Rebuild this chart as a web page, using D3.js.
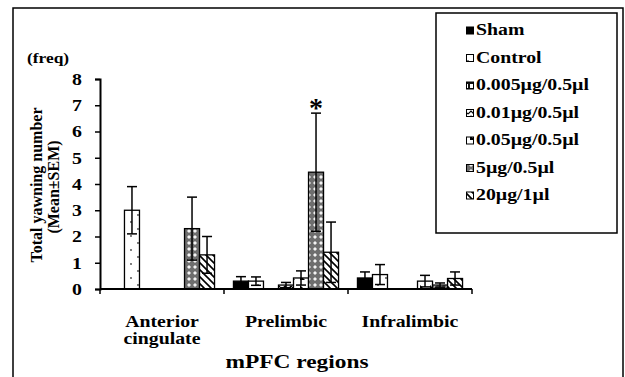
<!DOCTYPE html>
<html>
<head>
<meta charset="utf-8">
<script src="https://cdn.jsdelivr.net/npm/d3@7"></script>
<style>
    body { margin: 0; background: #fff; }
    svg text { font-family: "Liberation Serif", "Times New Roman", serif; font-weight: bold; fill: #000; }
</style>
</head>
<body>
<div id="chart"></div>
<script>
// data
const regions = ["Anterior cingulate", "Prelimbic", "Infralimbic"];
const regionLines = [["Anterior", "cingulate"], ["Prelimbic"], ["Infralimbic"]];
const seriesNames = ["Sham", "Control", "0.005µg/0.5µl", "0.01µg/0.5µl", "0.05µg/0.5µl", "5µg/0.5µl", "20µg/1µl"];

const shamMean = [0, 0.3, 0.42];
const controlMean = [3.0, 0.3, 0.55];
const dose0005Mean = [0, 0, 0];
const dose001Mean = [0, 0.15, 0];
const dose005Mean = [0, 0.42, 0.3];
const dose5Mean = [2.3, 4.45, 0.15];
const dose20Mean = [1.3, 1.4, 0.4];

const shamSem = [0, 0.17, 0.23];
const controlSem = [0.9, 0.16, 0.38];
const dose0005Sem = [0, 0, 0];
const dose001Sem = [0, 0.1, 0];
const dose005Sem = [0, 0.27, 0.22];
const dose5Sem = [1.2, 2.25, 0.08];
const dose20Sem = [0.7, 1.15, 0.25];

const yTicks = [0, 1, 2, 3, 4, 5, 6, 7, 8];
const significant = [{ region: "Prelimbic", series: "5µg/0.5µl" }];

const means = [shamMean, controlMean, dose0005Mean, dose001Mean, dose005Mean, dose5Mean, dose20Mean];
const sems = [shamSem, controlSem, dose0005Sem, dose001Sem, dose005Sem, dose5Sem, dose20Sem];
const patterns = ["solid", "dots", "brick", "zigzag", "corner", "checker", "stripes"];

const width = 625;
const height = 377;
const sx = 1.2; // glyphs in the figure are stretched horizontally

const svg = d3.select("#chart").append("svg")
    .attr("width", width)
    .attr("height", height);

// fill patterns
const defs = svg.append("defs");

const pDots = defs.append("pattern").attr("id", "dots")
    .attr("patternUnits", "userSpaceOnUse").attr("width", 15).attr("height", 28);
pDots.append("rect").attr("width", 15).attr("height", 28).attr("fill", "#fff");
pDots.append("circle").attr("cx", 3).attr("cy", 5).attr("r", 0.9).attr("fill", "#444");
pDots.append("circle").attr("cx", 11).attr("cy", 12).attr("r", 0.9).attr("fill", "#444");
pDots.append("circle").attr("cx", 3).attr("cy", 19).attr("r", 0.9).attr("fill", "#444");
pDots.append("circle").attr("cx", 11).attr("cy", 26).attr("r", 0.9).attr("fill", "#444");

const pBrick = defs.append("pattern").attr("id", "brick")
    .attr("patternUnits", "userSpaceOnUse").attr("width", 6).attr("height", 6);
pBrick.append("rect").attr("width", 6).attr("height", 6).attr("fill", "#111");
pBrick.append("rect").attr("x", 2).attr("y", 0).attr("width", 4).attr("height", 4).attr("fill", "#fff");

const pZig = defs.append("pattern").attr("id", "zigzag")
    .attr("patternUnits", "userSpaceOnUse").attr("width", 6).attr("height", 5);
pZig.append("rect").attr("width", 6).attr("height", 5).attr("fill", "#fff");
pZig.append("path").attr("d", "M0,4 L3,1 L6,4").attr("fill", "none").attr("stroke", "#000").attr("stroke-width", 1.2);

const pCorner = defs.append("pattern").attr("id", "corner")
    .attr("patternUnits", "userSpaceOnUse").attr("width", 10).attr("height", 10);
pCorner.append("rect").attr("width", 10).attr("height", 10).attr("fill", "#fff");
pCorner.append("path").attr("d", "M0,10 L0,5 L5,10 Z").attr("fill", "#000");

const pChecker = defs.append("pattern").attr("id", "checker")
    .attr("patternUnits", "userSpaceOnUse").attr("width", 6).attr("height", 6);
pChecker.append("rect").attr("width", 6).attr("height", 6).attr("fill", "#6e6e6e");
pChecker.append("path").attr("d", "M3,1 L5,3 L3,5 L1,3 Z").attr("fill", "#f4f4f4");

const pStripes = defs.append("pattern").attr("id", "stripes")
    .attr("patternUnits", "userSpaceOnUse").attr("width", 7).attr("height", 7);
pStripes.append("rect").attr("width", 7).attr("height", 7).attr("fill", "#fff");
pStripes.append("path").attr("d", "M-1,-1 L8,8 M-1,6 L1,8 M6,-1 L8,1")
    .attr("stroke", "#000").attr("stroke-width", 1.6);

function fillFor(i) {
    return patterns[i] === "solid" ? "#000" : `url(#${patterns[i]})`;
}

// outer frame
svg.append("rect")
    .attr("x", 13).attr("y", 8)
    .attr("width", 610).attr("height", 380)
    .attr("fill", "none").attr("stroke", "#000").attr("stroke-width", 1.5);

// scales
const x0 = d3.scaleBand()
    .domain(regions)
    .range([100, 472]);

const x1 = d3.scaleBand()
    .domain(seriesNames)
    .range([0, x0.bandwidth()])
    .paddingOuter(0.63);

const y = d3.scaleLinear()
    .domain([0, 8])
    .range([289, 79]);

// bars
const barData = [];
regions.forEach((r, ri) => {
    seriesNames.forEach((s, si) => {
        barData.push({ region: r, series: s, si: si, mean: means[si][ri], sem: sems[si][ri] });
    });
});

const bars = svg.append("g");

bars.selectAll("rect")
    .data(barData.filter(d => d.mean > 0))
    .enter()
    .append("rect")
    .attr("x", d => x0(d.region) + x1(d.series))
    .attr("y", d => y(d.mean))
    .attr("width", x1.bandwidth())
    .attr("height", d => y(0) - y(d.mean))
    .attr("fill", d => fillFor(d.si))
    .attr("stroke", "#000")
    .attr("stroke-width", 1.3);

// error bars (mean ± SEM)
const errs = svg.append("g")
    .attr("stroke", "#000")
    .attr("stroke-width", 1.5);

barData.filter(d => d.sem > 0).forEach(d => {
    const cx = x0(d.region) + x1(d.series) + x1.bandwidth() / 2;
    const top = y(d.mean + d.sem);
    const bottom = y(Math.max(0, d.mean - d.sem));
    errs.append("line").attr("x1", cx).attr("x2", cx).attr("y1", top).attr("y2", bottom);
    errs.append("line").attr("x1", cx - 5).attr("x2", cx + 5).attr("y1", top).attr("y2", top);
    errs.append("line").attr("x1", cx - 5).attr("x2", cx + 5).attr("y1", bottom).attr("y2", bottom);
});

// significance marks
significant.forEach(m => {
    const i = seriesNames.indexOf(m.series);
    const ri = regions.indexOf(m.region);
    const cx = x0(m.region) + x1(m.series) + x1.bandwidth() / 2;
    svg.append("text")
        .attr("x", cx)
        .attr("y", y(means[i][ri] + sems[i][ri]) + 4)
        .attr("text-anchor", "middle")
        .attr("font-size", 28)
        .attr("font-weight", "normal")
        .text("*");
});

// y axis
const yAxis = svg.append("g")
    .attr("transform", "translate(100,0)")
    .call(d3.axisLeft(y).tickValues(yTicks).tickSize(5).tickPadding(10).tickFormat(d3.format("d")));

yAxis.select(".domain").attr("stroke-width", 2);
yAxis.selectAll(".tick line").attr("stroke-width", 1.5);
yAxis.selectAll(".tick text")
    .attr("font-size", 16.5)
    .attr("transform", `scale(${sx},1)`);

// x axis
const xAxis = svg.append("g");
xAxis.append("line")
    .attr("x1", x0.range()[0]).attr("x2", x0.range()[1])
    .attr("y1", y(0)).attr("y2", y(0))
    .attr("stroke", "#000").attr("stroke-width", 2);

const boundaries = regions.map(r => x0(r)).concat([x0.range()[1]]);
xAxis.selectAll(".xtick")
    .data(boundaries)
    .enter()
    .append("line")
    .attr("x1", d => d).attr("x2", d => d)
    .attr("y1", y(0)).attr("y2", y(0) + 5)
    .attr("stroke", "#000").attr("stroke-width", 1.5);

regions.forEach((r, ri) => {
    const cx = x0(r) + x0.bandwidth() / 2;
    regionLines[ri].forEach((line, li) => {
        svg.append("text")
            .attr("transform", `translate(${cx},${327 + li * 17}) scale(${sx},1)`)
            .attr("text-anchor", "middle")
            .attr("font-size", 16.5)
            .text(line);
    });
});

svg.append("text")
    .attr("transform", `translate(297,368) scale(${sx},1)`)
    .attr("text-anchor", "middle")
    .attr("font-size", 19.5)
    .text("mPFC regions");

// y axis title
svg.append("text")
    .attr("transform", `translate(27,63) scale(${sx},1)`)
    .attr("font-size", 14.5)
    .text("(freq)");

svg.append("text")
    .attr("transform", "translate(42,185) rotate(-90)")
    .attr("text-anchor", "middle")
    .attr("font-size", 16)
    .text("Total yawning number");

svg.append("text")
    .attr("transform", "translate(59,187) rotate(-90)")
    .attr("text-anchor", "middle")
    .attr("font-size", 16)
    .text("(Mean±SEM)");

// legend
const legend = svg.append("g");
legend.append("rect")
    .attr("x", 436).attr("y", 13)
    .attr("width", 181).attr("height", 220)
    .attr("fill", "#fff").attr("stroke", "#000").attr("stroke-width", 1.5);

seriesNames.forEach((s, i) => {
    const ly = 35 + i * 27.5;
    legend.append("rect")
        .attr("x", 466.5).attr("y", ly - 8)
        .attr("width", 7).attr("height", 7)
        .attr("fill", fillFor(i))
        .attr("stroke", "#000").attr("stroke-width", 1);
    legend.append("text")
        .attr("transform", `translate(476,${ly}) scale(${sx},1)`)
        .attr("font-size", 16.5)
        .text(s);
});
</script>
</body>
</html>
